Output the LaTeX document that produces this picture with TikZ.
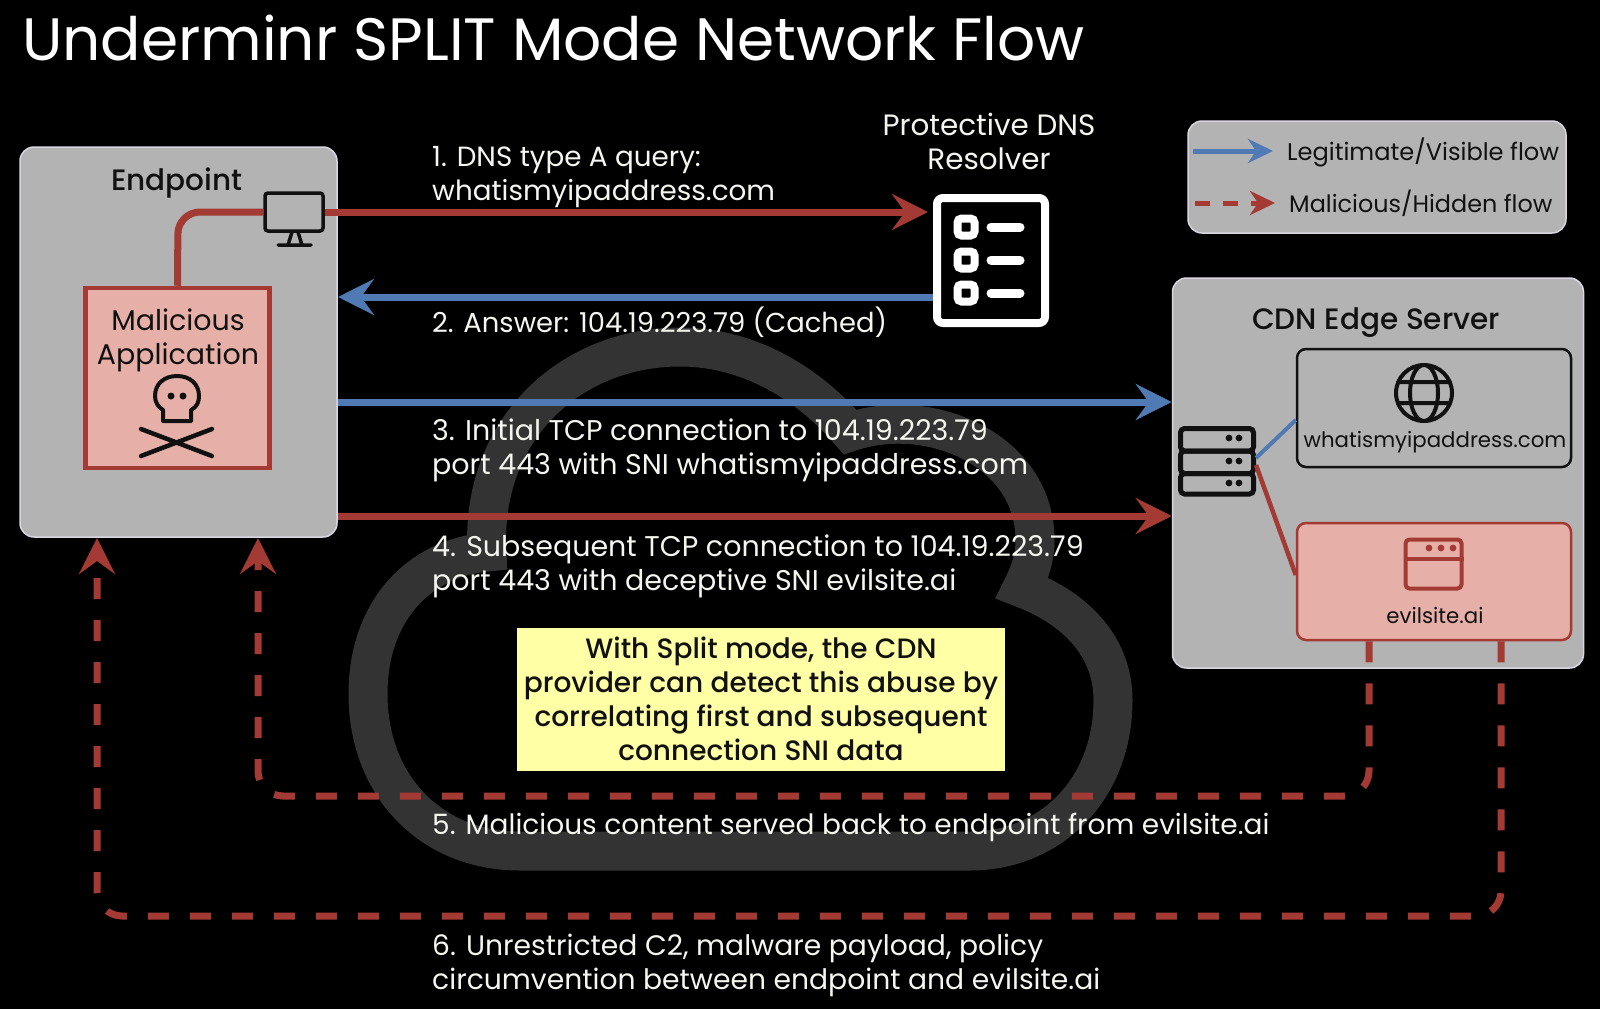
\documentclass[tikz,border=0pt]{standalone}
\usepackage{fontspec}
\setmainfont{Poppins}
\newfontfamily\medfont{Poppins Medium}
\usetikzlibrary{arrows.meta,calc}
\definecolor{bred}{HTML}{A33A33}
\definecolor{bblue}{HTML}{4F7AB3}
\definecolor{panel}{HTML}{B3B3B3}
\definecolor{pedge}{HTML}{D9D5E2}
\definecolor{pink}{HTML}{E6B0A8}
\definecolor{note}{HTML}{FFFFA6}
\definecolor{cloudc}{HTML}{333333}
\definecolor{txt}{HTML}{F6F6F0}
\definecolor{ink}{HTML}{111111}
\tikzset{
 panelbox/.style={draw=pedge,fill=panel,line width=1.5pt,rounded corners=14pt,inner sep=0pt,minimum width=#1},
 flowtext/.style={anchor=base west,inner sep=0pt,text=txt,align=left,font=\fontsize{#1}{33.7}\selectfont},
 flowtext/.default=28.5,
 darktext/.style={anchor=base,inner sep=0pt,text=ink,align=center,font=\fontsize{28.5}{33.7}\selectfont},
 headtext/.style={anchor=base,inner sep=0pt,text=ink,align=center,font=\medfont\fontsize{29.5}{33.7}\selectfont},
 notestyle/.style={anchor=base,inner sep=0pt,text=ink,align=center,font=\medfont\fontsize{28}{33.7}\selectfont},
 smalltext/.style={anchor=base,inner sep=0pt,text=ink,font=\fontsize{21.3}{26}\selectfont},
 redflow/.style={draw=bred,line width=7pt,-{Stealth[length=36pt,width=36pt,inset=13pt]}},
 blueflow/.style={draw=bblue,line width=7pt,-{Stealth[length=36pt,width=36pt,inset=13pt]}},
 hidden/.style={draw=bred,line width=7pt,rounded corners=25pt,dash pattern=on 21pt off 21pt,-{Stealth[length=36pt,width=36pt,inset=13pt]}},
 iconline/.style={draw=ink,line width=4pt,line cap=round,line join=round},
}
\begin{document}
\begin{tikzpicture}[x=1pt,y=-1pt]
\useasboundingbox (0,0) rectangle (1600,1009);
\fill[black] (0,0) rectangle (1600,1009);
% cloud
\draw[cloudc,line width=39pt,line join=miter,miter limit=4] (520,851)
  .. controls (430,851) and (368,785) .. (368,694)
  .. controls (368,610) and (420,558) .. (487,552)
  .. controls (480,430) and (570,347) .. (680,347)
  .. controls (750,347) and (810,385) .. (850,432)
  .. controls (930,405) and (1035,450) .. (1035,540)
  .. controls (1035,558) and (1030,572) .. (1022,588)
  .. controls (1080,610) and (1113,650) .. (1113,700)
  .. controls (1113,790) and (1050,851) .. (970,851) -- cycle;
% title
\node[anchor=base west,inner sep=0pt,text=white,font=\fontsize{59.8}{62}\selectfont] (title) at (22,60) {Underminr SPLIT Mode Network Flow};
% panels
\node[panelbox=317pt,minimum height=390pt] (endpoint) at (178.5,342) {};
\node[panelbox=411pt,minimum height=390pt] (cdn) at (1378,473) {};
\node[panelbox=378pt,minimum height=112pt] (legend) at (1377,177) {};
\node[headtext] (endlabel) at (177,190.5) {Endpoint};
\node[headtext] (cdnlabel) at (1376,329.5) {CDN Edge Server};
% app
\node[draw=bred,fill=pink,line width=4.5pt,minimum width=184pt,minimum height=180pt,inner sep=0pt] (app) at (177.5,378) {};
\node[darktext] (applabel) at (178,364) {Malicious\\Application};
% monitor
\node[draw=ink,line width=3.5pt,rounded corners=3pt,minimum width=58pt,minimum height=38pt,inner sep=0pt] (monitor) at (294,212) {};
\draw[iconline,line width=3.5pt] (292,232) -- (288,245) (298,232) -- (302,245) (278,245) -- (311,245);
% skull
\draw[iconline,line width=4pt] (163,421) -- (191,421) -- (191,410)
  .. controls (197,407) and (199,402) .. (199,396)
  .. controls (199,384) and (190,376) .. (177,376)
  .. controls (164,376) and (155,384) .. (155,396)
  .. controls (155,402) and (158,407) .. (163,410) -- cycle;
\fill[ink] (171,396) circle (3.5pt) (183,396) circle (3.5pt);
\draw[iconline,line width=4.5pt] (141,429) -- (212,456) (141,456) -- (212,429);
% DNS resolver
\node[anchor=base,inner sep=0pt,text=txt,align=center,font=\fontsize{29.4}{33.7}\selectfont] (dnslabel) at (989,169.5) {Protective DNS\\Resolver};
\node[draw=white,line width=8pt,rounded corners=6pt,minimum width=108pt,minimum height=125pt,inner sep=0pt] (dns) at (991,260.5) {};
\foreach \y in {227,260,293}{
  \draw[white,line width=8pt,rounded corners=4pt] (957.5,\y-8.5) rectangle (974.5,\y+8.5);
  \draw[white,line width=9pt,line cap=round] (991,\y) -- (1020,\y);
}
% connector ends
\coordinate (dnsin) at (928,212);
\coordinate (dnsout) at (dns.west|-0,297);
\coordinate (endin) at (338,297);
\coordinate (endout3) at (endpoint.east|-0,402);
\coordinate (cdnin3) at (cdn.west|-0,402);
\coordinate (endout4) at (endpoint.east|-0,516);
\coordinate (cdnin4) at (cdn.west|-0,516);
% evil & good boxes
\node[draw=ink,fill=panel,line width=2.5pt,rounded corners=9pt,minimum width=274pt,minimum height=118pt,inner sep=0pt] (good) at (1434,408) {};
\node[draw=bred,fill=pink,line width=2.5pt,rounded corners=9pt,minimum width=274pt,minimum height=117pt,inner sep=0pt] (evil) at (1434,581.5) {};
\node[smalltext] (goodlabel) at (1435,447) {whatismyipaddress.com};
\node[smalltext] (evillabel) at (1435,623) {evilsite.ai};
% globe
\draw[iconline] (1424,393) circle (28pt) (1424,393) ellipse (14pt and 28pt)
  (1398,382) -- (1450,382) (1398,403) -- (1450,403);
% browser
\node[draw=bred,line width=4pt,rounded corners=4pt,minimum width=56pt,minimum height=49pt,inner sep=0pt] (browser) at (1433.5,564) {};
\draw[bred,line width=4pt] (browser.west|-0,559) -- (browser.east|-0,559);
\fill[bred] (1429,548) circle (3.4pt) (1441,548) circle (3.4pt) (1453,548) circle (3.4pt);
% server
\foreach \a/\b in {428.5/451,451/473.5,473.5/494}{
  \draw[ink,line width=5pt,rounded corners=4pt] (1180.5,\a) rectangle (1253.5,\b);
}
\coordinate (server) at (1256,461);
\fill[ink] (1229,438) circle (3.4pt) (1239,438) circle (3.4pt)
           (1229,461) circle (3.4pt) (1239,461) circle (3.4pt)
           (1229,483) circle (3.4pt) (1239,483) circle (3.4pt);
\draw[bblue,line width=4pt] (server) ++(0,-3) -- (good.west|-0,420);
\draw[bred,line width=4.5pt] (server) ++(0,4) -- (evil.west|-0,575);
% flows
\draw[hidden] (evil.south-|1369,0) -- (1369,796) -- (258,796) -- (258,538);
\draw[hidden] (evil.south-|1501,0) -- (1501,916) -- (97,916) -- (97,538);
\draw[redflow] (monitor.east) -- (dnsin);
\draw[bred,line width=7pt,rounded corners=22pt] (monitor.west) -- (178,212) -- (app.north);
\draw[blueflow] (dnsout) -- (endin);
\draw[blueflow] (endout3) -- (cdnin3);
\draw[redflow] (endout4) -- (cdnin4);
% flow texts
\node[flowtext=27.8] (t1) at (432,200) {1. DNS type A query:\\whatismyipaddress.com};
\node[flowtext=27.4] (t2) at (432,332) {2. Answer: 104.19.223.79 (Cached)};
\node[flowtext] (t3) at (432,474) {3. Initial TCP connection to 104.19.223.79\\port 443 with SNI whatismyipaddress.com};
\node[flowtext] (t4) at (432,590) {4. Subsequent TCP connection to 104.19.223.79\\port 443 with deceptive SNI evilsite.ai};
\node[flowtext=28] (t5) at (432,834) {5. Malicious content served back to endpoint from evilsite.ai};
\node[flowtext=28.2] (t6) at (432,989) {6. Unrestricted C2, malware payload, policy\\circumvention between endpoint and evilsite.ai};
% note
\node[fill=note,minimum width=488pt,minimum height=143pt,inner sep=0pt] (notebox) at (761,699.5) {};
\node[notestyle] (notetext) at (761,760) {With Split mode, the CDN\\provider can detect this abuse by\\correlating first and subsequent\\connection SNI data};
% legend
\coordinate (la) at (1193,151); \coordinate (lb) at (1273,151);
\coordinate (lc) at (1195,203); \coordinate (ld) at (1275,203);
\draw[bblue,line width=5pt,-{Stealth[length=25pt,width=24pt,inset=8pt]}] (la) -- (lb);
\draw[bred,line width=5pt,dash pattern=on 15pt off 13pt,-{Stealth[length=25pt,width=24pt,inset=8pt]}] (lc) -- (ld);
\node[anchor=base west,inner sep=0pt,text=ink,font=\fontsize{24.1}{28}\selectfont] (l1) at (1287,160) {Legitimate/Visible flow};
\node[anchor=base west,inner sep=0pt,text=ink,font=\fontsize{23.9}{28}\selectfont] (l2) at (1289,212) {Malicious/Hidden flow};
\end{tikzpicture}
\end{document}
